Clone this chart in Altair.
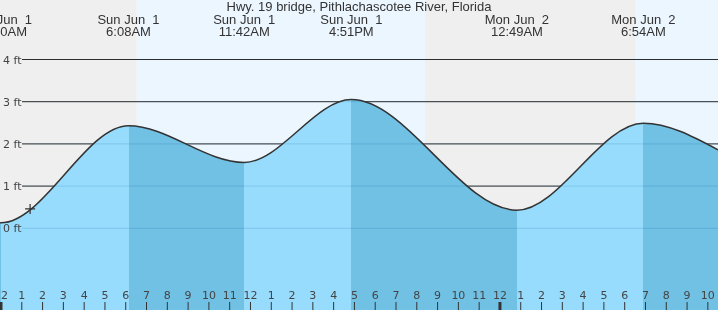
import altair as alt
import pandas as pd

TITLE = "Hwy. 19 bridge, Pithlachascotee River, Florida"


def hm(h, m):
    return h + m / 60.0


# Tide extremes (hours from Sun Jun 1 00:00)
ext_hours = [hm(0, 0), hm(6, 8), hm(11, 42), hm(16, 51), hm(24, 49), hm(30, 54)]
ext_ft = [0.13, 2.43, 1.56, 3.05, 0.43, 2.49]
ext_kind = ["low", "high", "low", "high", "low", "high"]
ext_day = ["Sun Jun \u00a01", "Sun Jun \u00a01", "Sun Jun \u00a01", "Sun Jun \u00a01",
           "Mon Jun \u00a02", "Mon Jun \u00a02"]
ext_time = ["12:00AM", "6:08AM", "11:42AM", "4:51PM", "12:49AM", "6:54AM"]

# Curve values read at the left and right edges of the chart
edge_hours = [-0.048, 34.488]
edge_ft = [0.133, 1.86]

# Sunrise / sunset
sun_hours = [hm(6, 32), hm(20, 24), hm(30, 32)]

# Hour ticks along the bottom
tick_hours = list(range(0, 35))
tick_labels = ["12", "1", "2", "3", "4", "5", "6", "7", "8", "9", "10", "11",
               "12", "1", "2", "3", "4", "5", "6", "7", "8", "9", "10", "11",
               "12", "1", "2", "3", "4", "5", "6", "7", "8", "9", "10"]
midnight_hours = [0, 24]

grid_ft = [0, 1, 2, 3, 4]
grid_labels = ["0 ft", "1 ft", "2 ft", "3 ft", "4 ft"]

now_hour = 1.4
now_ft = 0.46

X0, X1 = edge_hours[0], edge_hours[1]
Y0, Y1 = -1.936, 5.41
W, H = 718, 310
LIGHT = "#97dcfc"
DARK = "#71c1e5"

xs = alt.Scale(domain=[X0, X1], nice=False, zero=False)
ys = alt.Scale(domain=[Y0, Y1], nice=False, zero=False)

curve_hours = [edge_hours[0]] + ext_hours + [edge_hours[1]]
curve_ft = [edge_ft[0]] + ext_ft + [edge_ft[1]]
curve_df = pd.DataFrame({"h": curve_hours, "ft": curve_ft, "base": [Y0] * len(curve_hours)})

bg_df = pd.DataFrame({
    "start": [X0] + sun_hours,
    "end": sun_hours + [X1],
    "kind": ["night", "day", "night", "day"],
})

# gradient stops: rising tide light, falling tide dark
stops = []
cur = DARK
stops.append(alt.GradientStop(color=cur, offset=0))
for h, k in zip(ext_hours, ext_kind):
    off = (h - X0) / (X1 - X0)
    stops.append(alt.GradientStop(color=cur, offset=off))
    cur = LIGHT if k == "low" else DARK
    stops.append(alt.GradientStop(color=cur, offset=off))
stops.append(alt.GradientStop(color=cur, offset=1))
grad = alt.LinearGradient(gradient="linear", stops=stops, x1=0, x2=1, y1=0, y2=0)

ext_df = pd.DataFrame({"h": ext_hours, "ft": ext_ft, "day": ext_day, "time": ext_time})
grid_df = pd.DataFrame({"ft": grid_ft, "label": grid_labels})
tick_df = pd.DataFrame({"h": tick_hours, "label": tick_labels})
mid_df = pd.DataFrame({"h": midnight_hours})
now_df = pd.DataFrame({"h": [now_hour], "ft": [now_ft]})
title_df = pd.DataFrame({"t": [TITLE]})

X = lambda f: alt.X(f, scale=xs, axis=None)
Y = lambda f: alt.Y(f, scale=ys, axis=None)

bg = alt.Chart(bg_df).mark_rect().encode(
    x=X("start:Q"), x2="end:Q", y=alt.value(0), y2=alt.value(H),
    color=alt.Color("kind:N", scale=alt.Scale(domain=["night", "day"], range=["#efefef", "#ecf6ff"]), legend=None),
)

grid_dark = alt.Chart(grid_df[grid_df.ft >= 1]).mark_rule(color="#333333", strokeWidth=1).encode(
    y=Y("ft:Q"), x=alt.value(22), x2=alt.value(W)
)

area = alt.Chart(curve_df).mark_area(interpolate="monotone", color=grad, opacity=1).encode(
    x=X("h:Q"), y=Y("ft:Q"), y2="base:Q"
)

grid_faint = alt.Chart(grid_df).mark_rule(color="#d2e6f0", strokeWidth=1, blend="multiply").encode(
    y=Y("ft:Q"), x=alt.value(22), x2=alt.value(W)
)

line = alt.Chart(curve_df).mark_line(interpolate="monotone", color="#333333", strokeWidth=1.5).encode(
    x=X("h:Q"), y=Y("ft:Q")
)

ylab = alt.Chart(grid_df).mark_text(align="left", baseline="alphabetic", dy=4, font="DejaVu Sans",
                                    fontSize=11, color="#444444").encode(
    y=Y("ft:Q"), x=alt.value(3), text="label:N"
)

top1 = alt.Chart(ext_df).mark_text(align="center", baseline="alphabetic", font="Liberation Sans",
                                   fontSize=13, color="#333333").encode(
    x=X("h:Q"), y=alt.value(24), text="day:N"
)
top2 = alt.Chart(ext_df).mark_text(align="center", baseline="alphabetic", font="Liberation Sans",
                                   fontSize=13, color="#333333").encode(
    x=X("h:Q"), y=alt.value(36), text="time:N"
)
title = alt.Chart(title_df).mark_text(align="center", baseline="alphabetic", font="Liberation Sans",
                                      fontSize=13, color="#333333").encode(
    x=alt.value(359), y=alt.value(11), text="t:N"
)

ticks = alt.Chart(tick_df).mark_rule(color="#333333", strokeWidth=1).encode(
    x=X("h:Q"), y=alt.value(302), y2=alt.value(H)
)
mid_ticks = alt.Chart(mid_df).mark_rule(color="#333333", strokeWidth=3).encode(
    x=X("h:Q"), y=alt.value(302), y2=alt.value(H)
)
tick_text = alt.Chart(tick_df).mark_text(align="center", baseline="alphabetic", font="DejaVu Sans",
                                         fontSize=11, color="#444444").encode(
    x=X("h:Q"), y=alt.value(299), text="label:N"
)

now = alt.Chart(now_df).mark_point(shape="M-1,0L1,0M0,-1L0,1", size=100, stroke="#333333",
                                   strokeWidth=1.2, filled=False, opacity=1).encode(
    x=X("h:Q"), y=Y("ft:Q")
)

chart = alt.layer(
    bg, grid_dark, area, grid_faint, line, ylab, top1, top2, title, ticks, mid_ticks, tick_text, now
).properties(
    width=W, height=H, padding=0, autosize=alt.AutoSizeParams(type="none"), background="white"
).configure_view(stroke=None)

chart.save("out.html", embed_options={"renderer": "svg", "actions": False})
